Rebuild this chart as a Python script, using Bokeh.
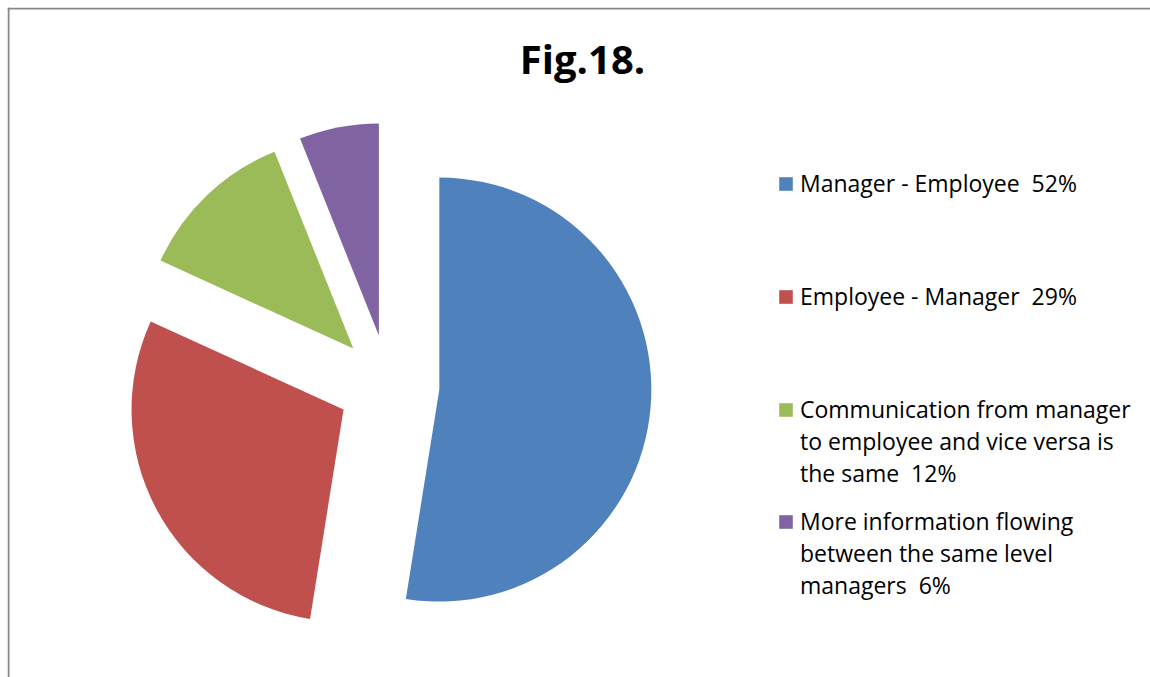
import numpy as np
from bokeh.plotting import figure
from bokeh.models import ColumnDataSource, Range1d, Legend, LegendItem, Label, Span
from bokeh.embed import file_html
from bokeh.resources import INLINE

categories = [
    "Manager - Employee",
    "Employee - Manager",
    "Communication from manager\nto employee and vice versa is\nthe same",
    "More information flowing\nbetween the same level\nmanagers",
]
values = [52, 29, 12, 6]
colors = ["#4F81BD", "#C0504D", "#9BBB59", "#8064A2"]
title_text = "Fig.18."

W, H = 1150, 677
OX, OY = 7, 7          # frame origin on the page
FW, FH = W - OX, H - OY

p = figure(width=W, height=H, output_backend="svg", toolbar_location=None,
           x_range=Range1d(0, FW), y_range=Range1d(0, FH),
           x_axis_type=None, y_axis_type=None,
           min_border_left=OX, min_border_top=OY, min_border_right=0, min_border_bottom=0,
           border_fill_color="white", background_fill_color="white",
           outline_line_color=None)
p.grid.visible = False

# chart-area border (top and left visible)
p.add_layout(Span(location=1, dimension="height", line_color="#878787", line_width=2))
p.add_layout(Span(location=FH - 1, dimension="width", line_color="#878787", line_width=2))

# pie geometry (pixel-like data units)
cx, cy, R, explode = 388 - OX, H - 385, 212, 51
vals = np.array(values, dtype=float)
frac = vals / vals.sum()
t_end = np.cumsum(frac) * 2 * np.pi
t_start = t_end - frac * 2 * np.pi
t_mid = (t_start + t_end) / 2
start = np.pi / 2 - t_end
end = np.pi / 2 - t_start
mid = np.pi / 2 - t_mid
xs = cx + explode * np.cos(mid)
ys = cy + explode * np.sin(mid)

labels = [f"{c}  {v}%" for c, v in zip(categories, values)]
src = ColumnDataSource(dict(x=xs, y=ys, start=start, end=end, color=colors, label=labels))
r = p.wedge(x="x", y="y", radius=R, start_angle="start", end_angle="end",
            fill_color="color", line_color=None, source=src)

# legends, one per entry (glyph aligned with first text line)
first_line_centre = [183, 296, 408, 520]   # page y
LH = 32.5
FS = 23
for i in range(len(values)):
    lab = labels[i]
    n = lab.count("\n") + 1
    if n > 1:
        lab = "\n" * (n - 1) + lab
    tot = 2 * n - 1
    leg = Legend(items=[LegendItem(label=lab, renderers=[r], index=i)],
                 label_text_font="Open Sans", label_text_font_size=f"{FS}px",
                 label_text_line_height=1.6 * 22 / FS * 1.0, label_text_color="black",
                 glyph_width=17, glyph_height=17, label_standoff=6,
                 padding=0, spacing=0, margin=0,
                 border_line_color=None, background_fill_alpha=0)
    bottom_page = first_line_centre[i] + LH * (tot / 2)
    leg.location = (777 - OX, H - bottom_page)
    p.add_layout(leg, "center")

p.add_layout(Label(x=582 - OX, y=H - 58, x_units="screen", y_units="screen",
                   text=title_text, text_font="Open Sans", text_font_style="bold",
                   text_font_size="40px", text_align="center",
                   text_baseline="alphabetic", text_color="black"))

open("out.html", "w").write(file_html(p, INLINE))
